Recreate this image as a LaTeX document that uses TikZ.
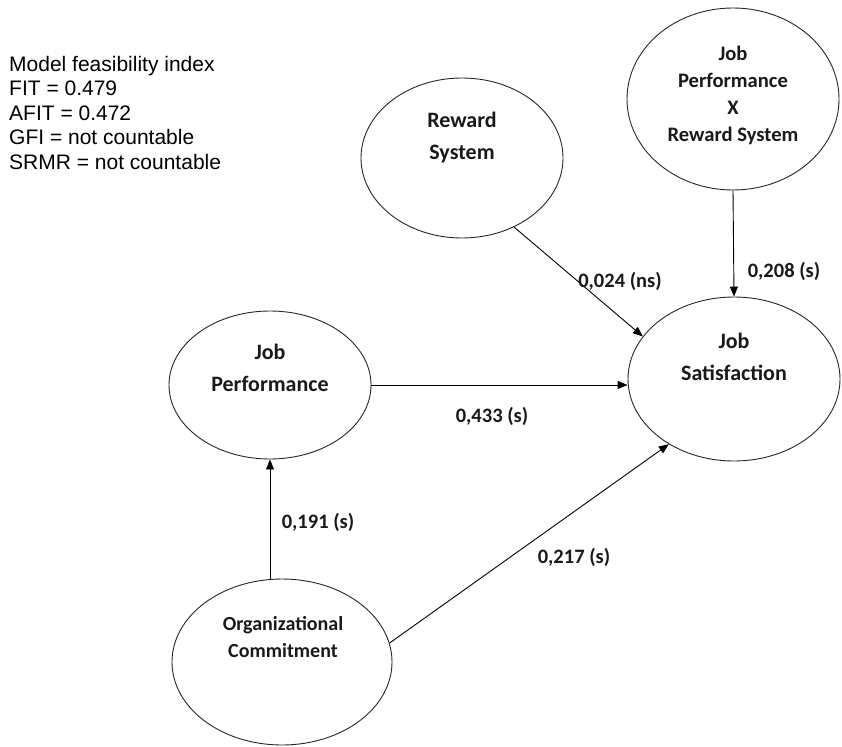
\documentclass[tikz,border=0pt]{standalone}
\usepackage{fontspec}
\setmainfont{Carlito}
\newfontfamily\arialfont{Liberation Sans}
\usetikzlibrary{shapes.geometric,arrows.meta}

\begin{document}
\begin{tikzpicture}[x=1pt,y=-1pt,
  latent/.style={draw=black!85,line width=0.9pt,ellipse,inner sep=0pt},
  vname/.style={font=\bfseries\fontsize{22}{32}\selectfont,align=center,inner sep=0pt,text=black!90},
  vnamesmall/.style={font=\bfseries\fontsize{20}{27}\selectfont,align=center,inner sep=0pt,text=black!90},
  coef/.style={font=\bfseries\fontsize{20.5}{24}\selectfont,inner sep=0pt,text=black!90},
  path/.style={line width=0.9pt,-{Triangle[length=10pt,width=8pt]}}
]
\useasboundingbox (0,0) rectangle (842,746);

% fit summary
\node[font=\arialfont\fontsize{21}{24.5}\selectfont,align=left,anchor=north west,inner sep=0pt] (fit) at (9,56)
  {Model feasibility index\\FIT = 0.479\\AFIT = 0.472\\GFI = not countable\\SRMR = not countable};

% latent variables
\node[latent,minimum width=202pt,minimum height=160pt] (RS) at (462,158) {};
\node[latent,minimum width=212pt,minimum height=182pt] (JPRS) at (733,99) {};
\node[latent,minimum width=212pt,minimum height=164pt] (JS) at (734,379) {};
\node[latent,minimum width=202pt,minimum height=148pt] (JP) at (270,385) {};
\node[latent,minimum width=220pt,minimum height=166pt] (OC) at (282,662) {};

% variable names
\node[vname] (RSt) at (462,138) {Reward\\System};
\node[vnamesmall,font=\bfseries\fontsize{20.6}{27}\selectfont] (JPRSt) at (733,95) {Job\\Performance\\X\\Reward System};
\node[vname] (JSt) at (734,357) {Job\\Satisfaction};
\node[vname] (JPt) at (270,368) {Job\\Performance};
\node[vnamesmall] (OCt) at (283,637) {Organizational\\Commitment};

% structural paths
\draw[path] (RS.-53) -- (JS.155.5);
\draw[path] (JPRS.south) -- (JS.north);
\draw[path] (JP.east) -- (JP.east -| JS.west);
\draw[path] (OC.north -| JP.south) -- (JP.south);
\draw[path] (OC.10) -- (JS.225);

% path coefficients
\node[coef] (c1) at (620,281) {0,024 (ns)};
\node[coef] (c2) at (784,271) {0,208 (s)};
\node[coef] (c3) at (492,416) {0,433 (s)};
\node[coef] (c4) at (318,522) {0,191 (s)};
\node[coef] (c5) at (574,557) {0,217 (s)};
\end{tikzpicture}
\end{document}
